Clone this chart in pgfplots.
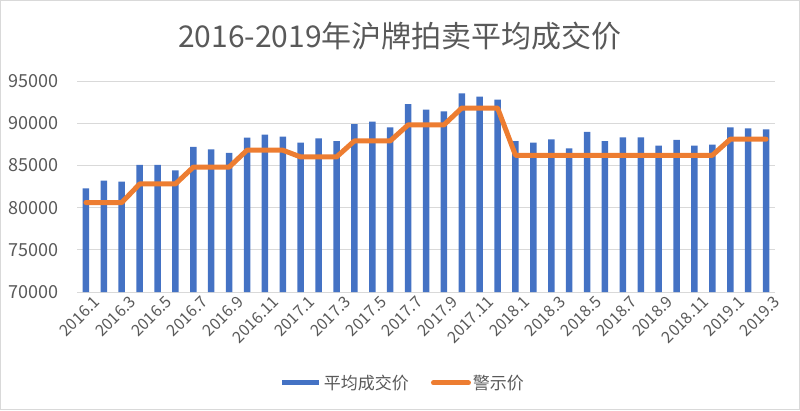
\documentclass[border=0pt]{standalone}
\usepackage{fontspec}
\setmainfont{Noto Sans CJK SC}
\usepackage{pgfplots}
\pgfplotsset{compat=1.18}
\definecolor{barblue}{HTML}{4472C4}
\definecolor{lineorange}{HTML}{ED7D31}
\definecolor{txtgray}{HTML}{595959}
\definecolor{gridgray}{HTML}{D9D9D9}
\pgfplotstableread{
x avg warn
0 82290 80600
1 83190 80600
2 83070 80600
3 85050 82800
4 85050 82800
5 84420 82800
6 87200 84800
7 86900 84800
8 86470 84800
9 88280 86800
10 88640 86800
11 88400 86800
12 87690 86000
13 88200 86000
14 87890 86000
15 89900 87900
16 90180 87900
17 89510 87900
18 92270 89800
19 91600 89800
20 91400 89800
21 93540 91800
22 93140 91800
23 92790 91800
24 87890 86200
25 87690 86200
26 88090 86200
27 87020 86200
28 88960 86200
29 87890 86200
30 88330 86200
31 88330 86200
32 87340 86200
33 88010 86200
34 87340 86200
35 87460 86200
36 89510 88100
37 89390 88100
38 89280 88100
}\datatable
\begin{document}
\begin{tikzpicture}
\draw[gridgray, line width=1.2pt] (0.6pt,0.6pt) rectangle (799.4pt,409.4pt);
\node[txtgray, font=\fontsize{30}{36}\selectfont] at (400pt,374pt) {2016-2019年沪牌拍卖平均成交价};
\begin{axis}[
  at={(77pt,118pt)}, anchor=south west,
  scale only axis, width=698pt, height=211pt,
  xmin=-0.5, xmax=38.5, ymin=70000, ymax=95000,
  ytick={70000,75000,80000,85000,90000,95000},
  xtick={0,2,...,38},
  xticklabels={2016.1,2016.3,2016.5,2016.7,2016.9,2016.11,2017.1,2017.3,2017.5,2017.7,2017.9,2017.11,2018.1,2018.3,2018.5,2018.7,2018.9,2018.11,2019.1,2019.3},
  axis line style={draw=none},
  tick style={draw=none},
  ymajorgrids,
  major grid style={gridgray, line width=1pt},
  scaled y ticks=false,
  /pgf/number format/assume math mode=true,
  /pgf/number format/fixed,
  /pgf/number format/set thousands separator={},
  yticklabel style={font=\fontsize{18}{20}\selectfont, text=txtgray, anchor=east, xshift=-15pt},
  xticklabel style={font=\fontsize{16}{18}\selectfont, text=txtgray, rotate=45, anchor=east, inner sep=1pt, xshift=4pt, yshift=-13pt},
  legend style={at={(0.467,-0.431)}, anchor=center, draw=none, fill=none,
    legend columns=2, font=\fontsize{17}{20}\selectfont, text=txtgray,
    /tikz/every even column/.append style={column sep=20pt}},
  legend cell align=left,
]
\addplot[ybar, bar width=6.5pt, fill=barblue, draw=none,
  legend image code/.code={\draw[line width=5pt, barblue] (0pt,0pt) -- (37pt,0pt);}]
  table[x=x, y=avg] {\datatable};
\addlegendentry{平均成交价}
\addplot[lineorange, line width=5pt, line join=round, line cap=round, mark=none,
  legend image code/.code={\draw[line width=5pt, lineorange, line cap=round] (2pt,0pt) -- (37pt,0pt);}]
  table[x=x, y=warn] {\datatable};
\addlegendentry{警示价}
\end{axis}
\end{tikzpicture}
\end{document}
